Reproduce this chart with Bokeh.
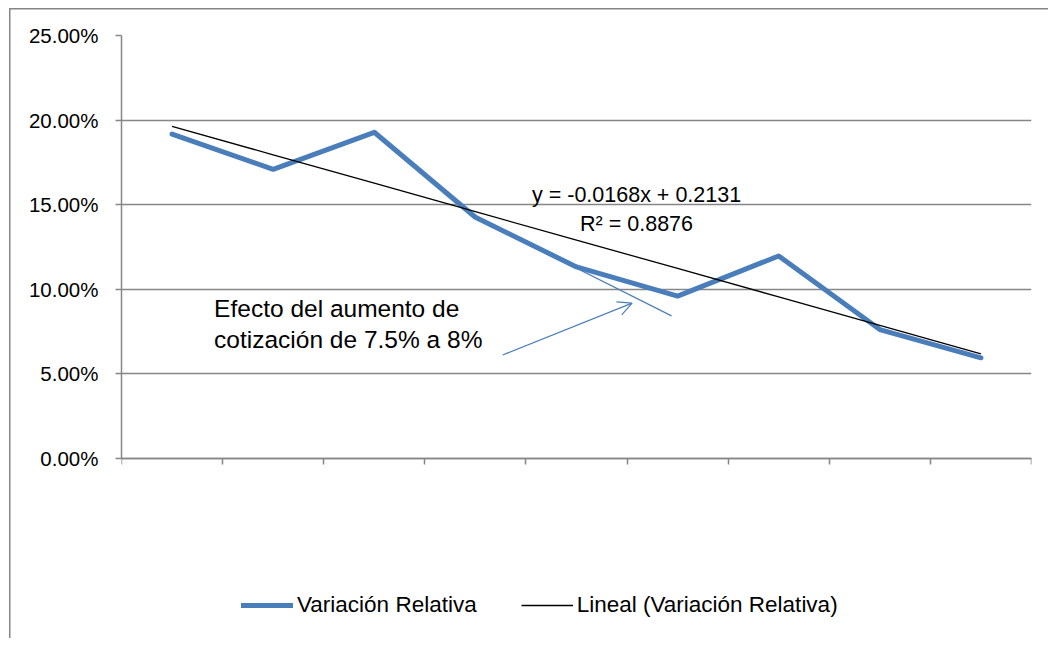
from bokeh.plotting import figure
from bokeh.models import (Range1d, FixedTicker, NumeralTickFormatter, Legend, LegendItem,
                          Label, Arrow, OpenHead, CustomJSTickFormatter)
from bokeh.embed import file_html
from bokeh.resources import INLINE

# ---- data ----
periods = [1, 2, 3, 4, 5, 6, 7, 8, 9]
variacion = [0.1917, 0.1709, 0.1928, 0.1426, 0.1132, 0.0960, 0.1197, 0.0762, 0.0595]
trend_slope = -0.0168
trend_intercept = 0.2131
r_squared = 0.8876
y_ticks = [0.0, 0.05, 0.10, 0.15, 0.20, 0.25]
x_ticks = [0.5, 1.5, 2.5, 3.5, 4.5, 5.5, 6.5, 7.5, 8.5, 9.5]
tangent_x = [3.94, 5.94]
tangent_y = [0.1443, 0.0843]
arrow_x = [4.27, 5.55]
arrow_y = [0.0612, 0.0918]
note_lines = ["Efecto del aumento de", "cotización de 7.5% a 8%"]
series_label = "Variación Relativa"
trend_label = "Lineal (Variación Relativa)"

trend = [trend_intercept + trend_slope * x for x in periods]

BLUE = "#4A7EBB"
GRAY = "#868686"
FONT = "Liberation Sans"

# plot area extends below 0 so that the legend can sit inside it (below the x axis)
p = figure(width=1048, height=638, output_backend="svg", toolbar_location=None,
           x_range=Range1d(0.5, 9.5), y_range=Range1d(-0.0993, 0.25),
           min_border_left=121, min_border_right=17, min_border_top=35, min_border_bottom=12)
p.outline_line_color = None
p.background_fill_color = "white"
p.border_fill_color = None
# outer chart-area frame: left and top edges, drawn as inset shadows on the host element
p.styles = {"background-color": "white",
            "box-shadow": "inset 9px 8px 0 0 white, inset 10.5px 9.5px 0 0 " + GRAY}

# axes
p.yaxis.ticker = FixedTicker(ticks=y_ticks)
p.yaxis.bounds = (0, 0.25)
p.yaxis.formatter = NumeralTickFormatter(format="0.00%")
p.yaxis.axis_line_color = GRAY
p.yaxis.axis_line_width = 1.5
p.yaxis.major_tick_line_color = GRAY
p.yaxis.major_tick_line_width = 1.5
p.yaxis.major_tick_out = 6
p.yaxis.major_tick_in = 0
p.yaxis.minor_tick_line_color = None
p.yaxis.major_label_standoff = 17
p.yaxis.major_label_text_font = FONT
p.yaxis.major_label_text_font_size = "20.5px"
p.yaxis.major_label_text_color = "black"

p.xaxis.ticker = FixedTicker(ticks=x_ticks)
p.xaxis.fixed_location = 0
p.xaxis.formatter = CustomJSTickFormatter(code="return ''")
p.xaxis.axis_line_color = GRAY
p.xaxis.axis_line_width = 1.5
p.xaxis.major_tick_line_color = GRAY
p.xaxis.major_tick_line_width = 1.5
p.xaxis.major_tick_out = 6
p.xaxis.major_tick_in = 0
p.xaxis.minor_tick_line_color = None
p.xaxis.major_label_standoff = 0

p.xgrid.grid_line_color = None
p.ygrid.ticker = FixedTicker(ticks=y_ticks)
p.ygrid.grid_line_color = GRAY
p.ygrid.grid_line_width = 1.5

# series
r_series = p.line(periods, variacion, line_color=BLUE, line_width=5, line_join="round", line_cap="round")
r_trend = p.line(periods, trend, line_color="black", line_width=1.3)

# annotations
p.line(tangent_x, tangent_y, line_color=BLUE, line_width=1.2)
p.add_layout(Arrow(end=OpenHead(size=14, line_color=BLUE, line_width=1.2),
                   x_start=arrow_x[0], y_start=arrow_y[0], x_end=arrow_x[1], y_end=arrow_y[1],
                   line_color=BLUE, line_width=1.2))

p.add_layout(Label(x=1.416, y=0.0889, text=note_lines[0], text_align="left", text_baseline="middle",
                   text_font=FONT, text_font_size="24.5px", text_color="black"))
p.add_layout(Label(x=1.416, y=0.0704, text=note_lines[1], text_align="left", text_baseline="middle",
                   text_font=FONT, text_font_size="24.5px", text_color="black"))

eq_text = "y = %.4fx + %.4f" % (trend_slope, trend_intercept)
p.add_layout(Label(x=5.594, y=0.1559, text=eq_text, text_align="center", text_baseline="middle",
                   text_font=FONT, text_font_size="21.5px", text_color="black"))
p.add_layout(Label(x=5.594, y=0.1386, text="R² = %.4f" % r_squared, text_align="center",
                   text_baseline="middle", text_font=FONT, text_font_size="21.5px", text_color="black"))

legend = Legend(items=[LegendItem(label=series_label, renderers=[r_series]),
                       LegendItem(label=trend_label, renderers=[r_trend])],
                orientation="horizontal", location=(120, 8),
                padding=0, margin=0, spacing=44, glyph_width=52, glyph_height=20,
                label_standoff=4, border_line_color=None, background_fill_alpha=0,
                label_text_font=FONT, label_text_font_size="22.5px", label_text_color="black")
p.add_layout(legend, "center")

open("out.html", "w").write(file_html(p, INLINE))
